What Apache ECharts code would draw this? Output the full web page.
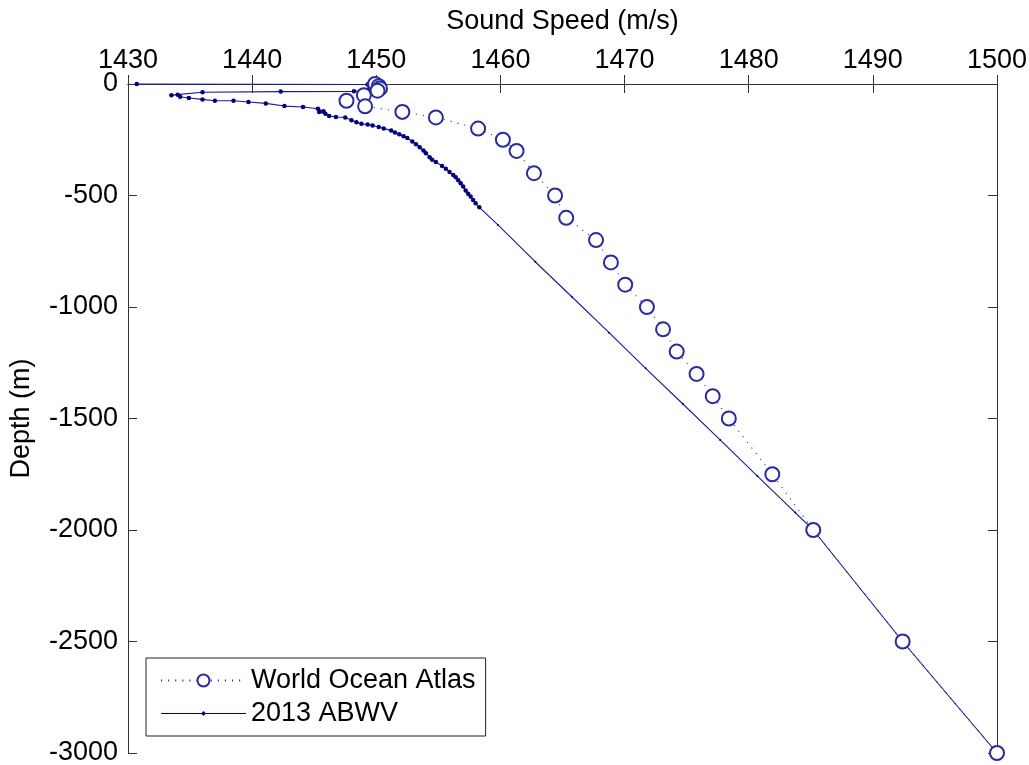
<!DOCTYPE html>
<html>
<head>
<meta charset="utf-8">
<script src="https://cdn.jsdelivr.net/npm/echarts@6/dist/echarts.min.js"></script>
<style>
html,body{margin:0;padding:0;background:#fff;}
#chart{width:1029px;height:765px;}
</style>
</head>
<body>
<div id="chart"></div>
<script>
// World Ocean Atlas profile
var woaDepth = [0,-10,-20,-30,-50,-75,-100,-125,-150,-200,-250,-300,-400,-500,-600,-700,-800,-900,-1000,-1100,-1200,-1300,-1400,-1500,-1750,-2000,-2500,-3000];
var woaSpeed = [1449.9,1450.2,1450.3,1450.1,1449.0,1447.6,1449.1,1452.1,1454.8,1458.2,1460.2,1461.3,1462.7,1464.4,1465.3,1467.7,1468.9,1470.05,1471.8,1473.1,1474.2,1475.8,1477.1,1478.4,1481.9,1485.2,1492.4,1500.0];

// 2013 ABWV profile
var abwvDepth = [0,-2,-6,-12,-18,-24,-29,-33,-34,-37,-50,-48,-57,-63,-69,-75,-75,-81,-87,-99,-103,-111,-122,-126,-133,-143,-148,-150,-163,-172,-178,-182,-186,-193,-199,-209,-218,-225,-234,-242,-258,-270,-284,-298,-311,-328,-340,-350,-368,-380,-395,-408,-418,-432,-445,-460,-478,-492,-505,-520,-535,-553,-632,-797,-954,-1115,-1275,-1435,-1596,-1758,-1922,-2000,-2500,-3000];
var abwvSpeed = [1430.7,1449.3,1449.7,1450.0,1449.8,1449.4,1448.9,1448.2,1442.3,1436.0,1433.5,1434.0,1434.2,1434.9,1436.0,1437.0,1438.5,1439.7,1441.1,1442.6,1444.1,1445.3,1445.75,1445.4,1445.9,1446.2,1446.75,1447.5,1448.0,1448.4,1448.8,1449.3,1449.7,1450.2,1450.6,1451.2,1451.5,1451.85,1452.2,1452.5,1452.9,1453.2,1453.5,1453.8,1454.0,1454.3,1454.5,1454.8,1455.3,1455.6,1455.9,1456.2,1456.4,1456.6,1456.8,1457.0,1457.2,1457.4,1457.6,1457.8,1458.0,1458.3,1459.8,1462.8,1465.75,1468.75,1471.7,1474.7,1477.7,1480.7,1483.75,1485.2,1492.4,1500.0];

var xTicks = [1430,1440,1450,1460,1470,1480,1490,1500];
var yTicks = [0,-500,-1000,-1500,-2000,-2500,-3000];

var woaData = woaSpeed.map(function(s,i){return [s, woaDepth[i]];});
var abwvData = abwvSpeed.map(function(s,i){return [s, abwvDepth[i]];});

var FONT = 'Liberation Sans, Arial, sans-serif';
var FS = 27;
var axisCol = '#333';
var plain = function(v){ return String(v); };
var chart = echarts.init(document.getElementById('chart'), null, {renderer:'canvas'});
var xCommon = {
  type:'value', min:xTicks[0], max:xTicks[xTicks.length-1], interval:10,
  splitLine:{show:false},
  axisLine:{show:true, lineStyle:{color:axisCol, width:1}},
  axisTick:{show:true, inside:true, length:9, lineStyle:{color:axisCol}}
};
var yCommon = {
  type:'value', min:yTicks[yTicks.length-1], max:yTicks[0], interval:500,
  splitLine:{show:false},
  axisLine:{show:true, lineStyle:{color:axisCol, width:1}},
  axisTick:{show:true, inside:true, length:9, lineStyle:{color:axisCol}}
};
chart.setOption({
  animation:false,
  backgroundColor:'#fff',
  grid:{left:128, right:32, top:84, bottom:12, containLabel:false, outerBoundsMode:'none'},
  xAxis:[
    Object.assign({}, xCommon, {
      position:'top',
      name:'Sound Speed (m/s)', nameLocation:'middle', nameGap:49,
      nameTextStyle:{color:'#000', fontSize:FS, fontFamily:FONT},
      axisLabel:{show:true, color:'#000', fontSize:FS, fontFamily:FONT, margin:10, formatter:plain}
    }),
    Object.assign({}, xCommon, {position:'bottom', axisLabel:{show:false}})
  ],
  yAxis:[
    Object.assign({}, yCommon, {
      position:'left',
      name:'Depth (m)', nameLocation:'middle', nameGap:93, nameRotate:90,
      nameTextStyle:{color:'#000', fontSize:FS, fontFamily:FONT},
      axisLabel:{show:true, color:'#000', fontSize:FS, fontFamily:FONT, margin:10, formatter:plain}
    }),
    Object.assign({}, yCommon, {position:'right', axisLabel:{show:false}})
  ],
  legend:{
    show:true, orient:'vertical', left:146, top:658,
    padding:[9,10,9,14],
    itemGap:6,
    itemWidth:85, itemHeight:15,
    borderColor:'#222', borderWidth:1, backgroundColor:'#fff',
    textStyle:{color:'#000', fontSize:FS, fontFamily:FONT, padding:[0,0,0,0]},
    data:[
      {name:'World Ocean Atlas'},
      {name:'2013 ABWV', icon:'path://M0,7.4 L40.5,7.4 L42.5,5.5 L44.5,7.4 L85,7.4 L85,8.6 L44.5,8.6 L42.5,10.5 L40.5,8.6 L0,8.6 Z'}
    ]
  },
  series:[
    {
      name:'World Ocean Atlas', type:'line', xAxisIndex:0, yAxisIndex:0,
      data:woaData, clip:false,
      symbol:'emptyCircle', symbolSize:14, showSymbol:true,
      lineStyle:{color:'#2a2aa0', width:1.1, type:[1.1,6]},
      itemStyle:{color:'#2a2aa0', borderColor:'#2a2aa0', borderWidth:1.1},
      z:3
    },
    {
      name:'2013 ABWV', type:'line', xAxisIndex:0, yAxisIndex:0,
      data:abwvData, clip:false,
      symbol:'circle',
      symbolSize:function(v){ return (v[1] < -560 && v[1] > -1990) ? 2 : 4.5; },
      showSymbol:true,
      lineStyle:{color:'#1a1a95', width:1.1},
      itemStyle:{color:'#000080'},
      z:2
    }
  ]
});
</script>
</body>
</html>
